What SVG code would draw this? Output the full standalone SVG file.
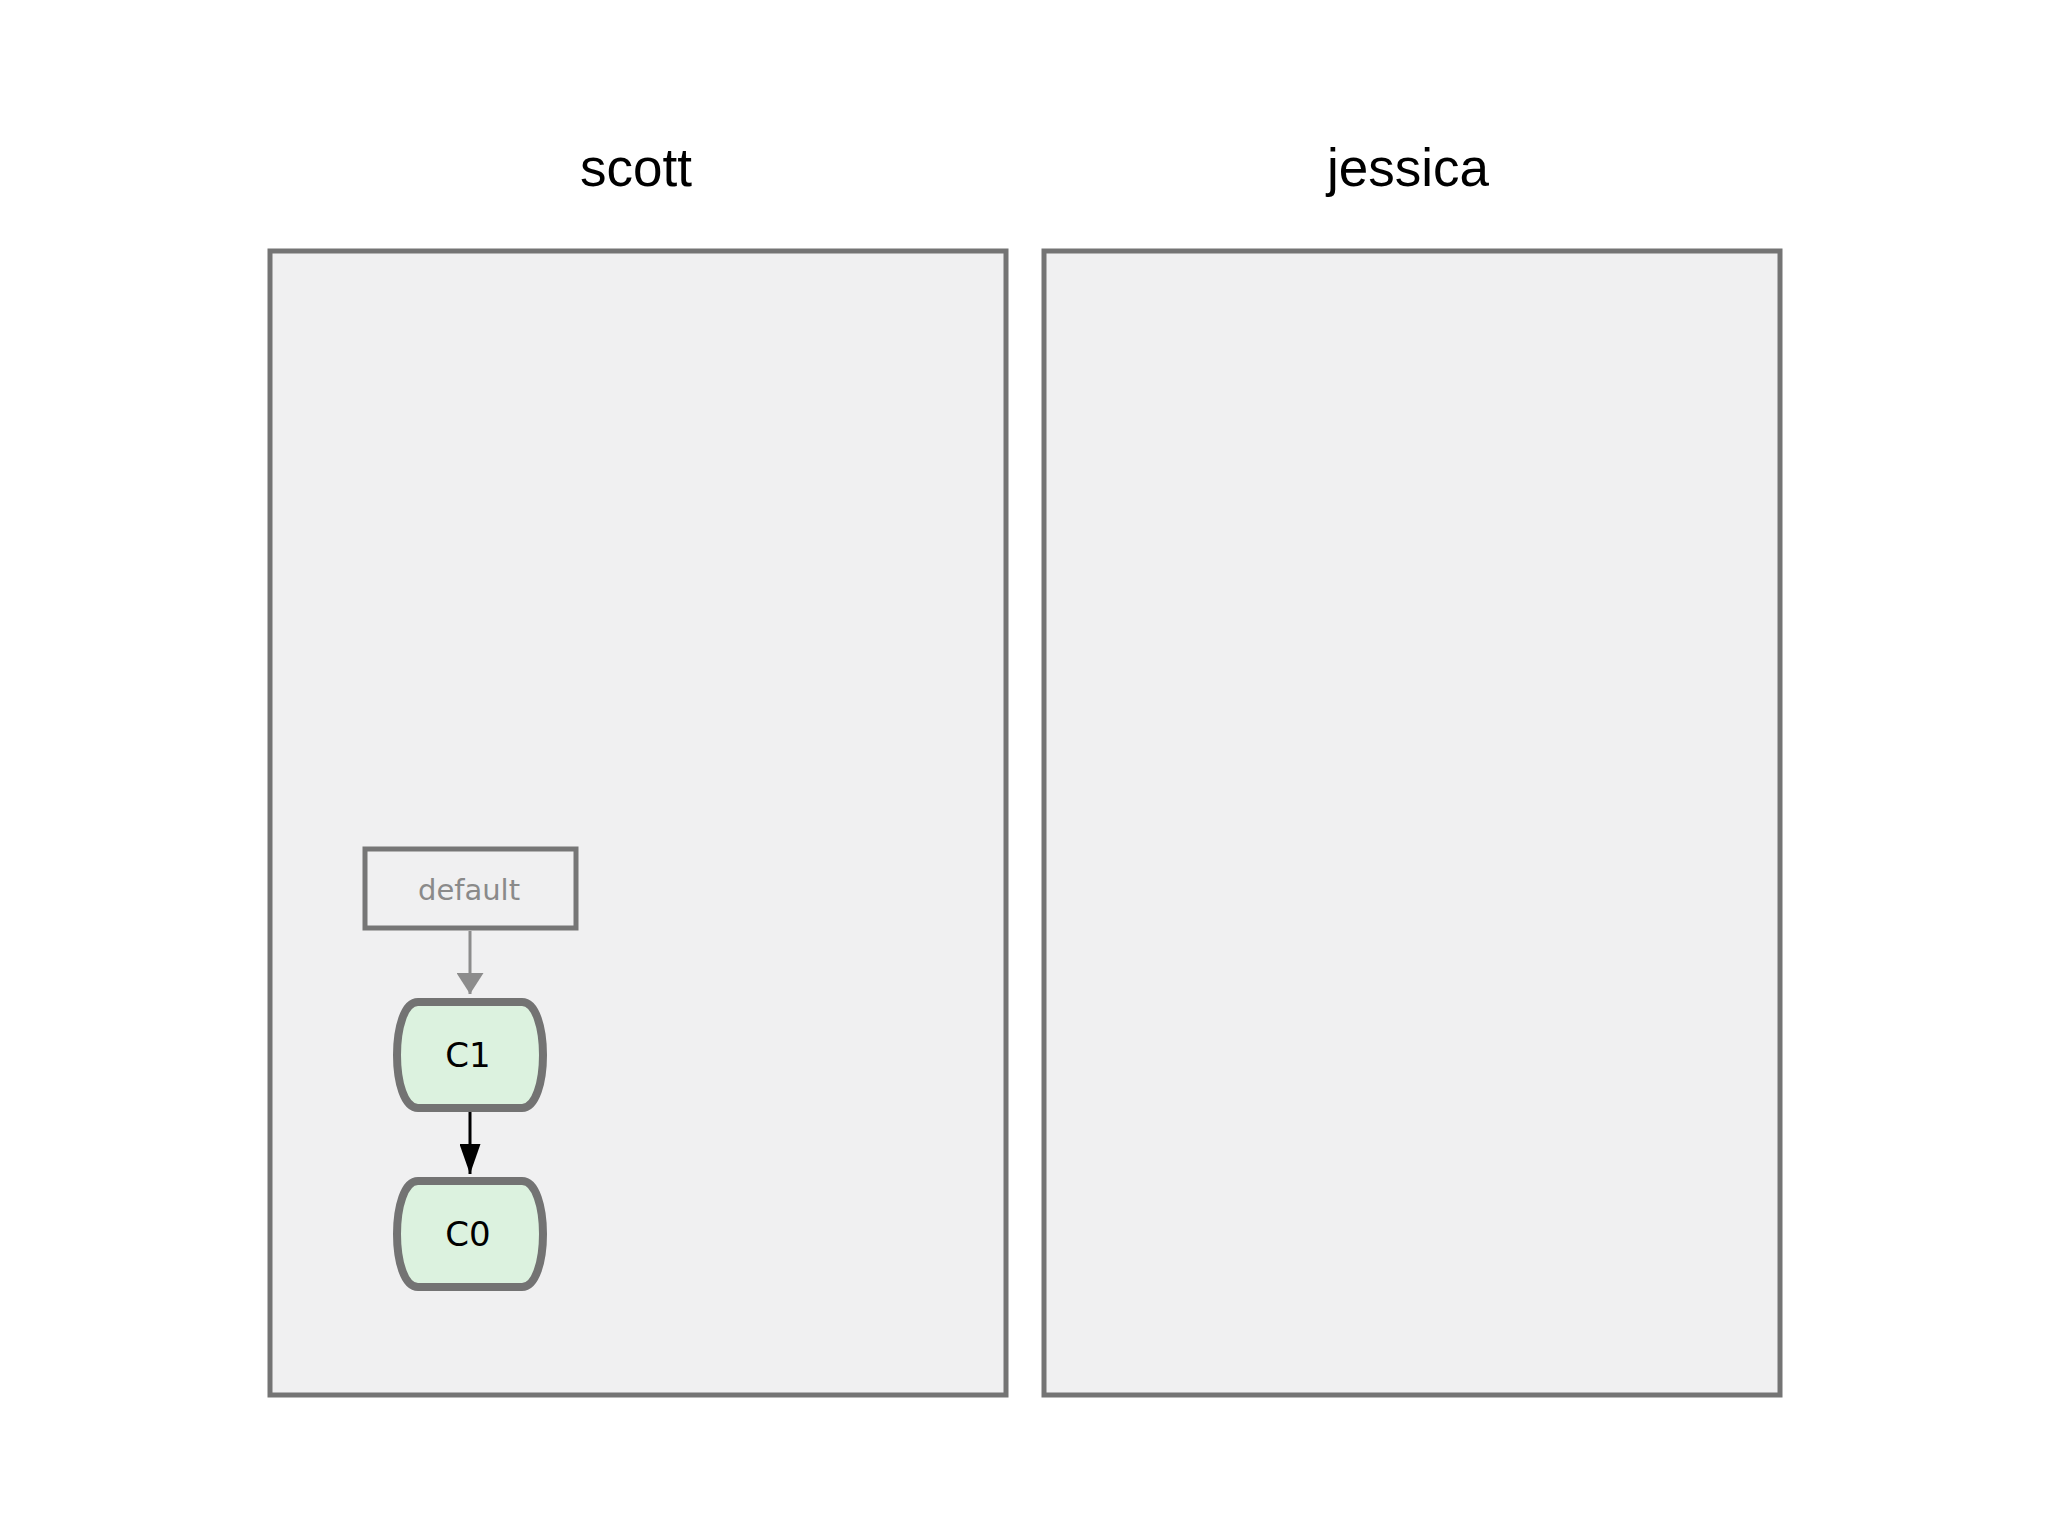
<svg xmlns="http://www.w3.org/2000/svg" width="2048" height="1536" viewBox="0 0 2048 1536">
<defs>
<style>
.panel{fill:#f0f0f1;stroke:#747474;stroke-width:5}
.title{font-family:"Liberation Sans",Arial,sans-serif;font-size:53px;fill:#000;text-anchor:middle}
.commit{fill:#dcf2df;stroke:#737373;stroke-width:8}
.clabel{font-family:"DejaVu Sans",sans-serif;font-size:34px;fill:#000;text-anchor:middle}
.branch{fill:#f0f0f1;stroke:#767676;stroke-width:5}
.blabel{font-family:"DejaVu Sans",sans-serif;font-size:29px;fill:#8a8a8a;text-anchor:middle}
</style>
<marker id="ahGray" markerWidth="7" markerHeight="9" refX="7" refY="4.5" orient="auto" markerUnits="strokeWidth">
<path d="M0,0 L7,4.5 L0,9 Z" fill="#8c8c8c"/>
</marker>
<marker id="ahBlack" markerWidth="10" markerHeight="7" refX="10" refY="3.5" orient="auto" markerUnits="strokeWidth">
<path d="M0,0 L10,3.5 L0,7 Z" fill="#000"/>
</marker>
</defs>
<rect width="2048" height="1536" fill="#fff"/>
<g id="scott">
<rect class="panel" x="270" y="251" width="736" height="1144"/>
<text class="title" x="636" y="186">scott</text>
</g>
<g id="jessica">
<rect class="panel" x="1044" y="251" width="736" height="1144"/>
<text class="title" x="1408" y="186">jessica</text>
</g>
<g id="connectors">
<line x1="470" y1="931" x2="470" y2="994" stroke="#8c8c8c" stroke-width="3" marker-end="url(#ahGray)"/>
<line x1="470" y1="1112" x2="470" y2="1174" stroke="#000" stroke-width="3" marker-end="url(#ahBlack)"/>
</g>
<g id="default">
<rect class="branch" x="365" y="849" width="211" height="79"/>
<text class="blabel" x="469" y="900">default</text>
</g>
<g id="C1">
<path class="commit" d="M418,1002 H522 C550,1002 550,1108 522,1108 H418 C390,1108 390,1002 418,1002 Z"/>
<text class="clabel" x="468" y="1067">C1</text>
</g>
<g id="C0">
<path class="commit" d="M418,1181 H522 C550,1181 550,1287 522,1287 H418 C390,1287 390,1181 418,1181 Z"/>
<text class="clabel" x="468" y="1246">C0</text>
</g>
</svg>
